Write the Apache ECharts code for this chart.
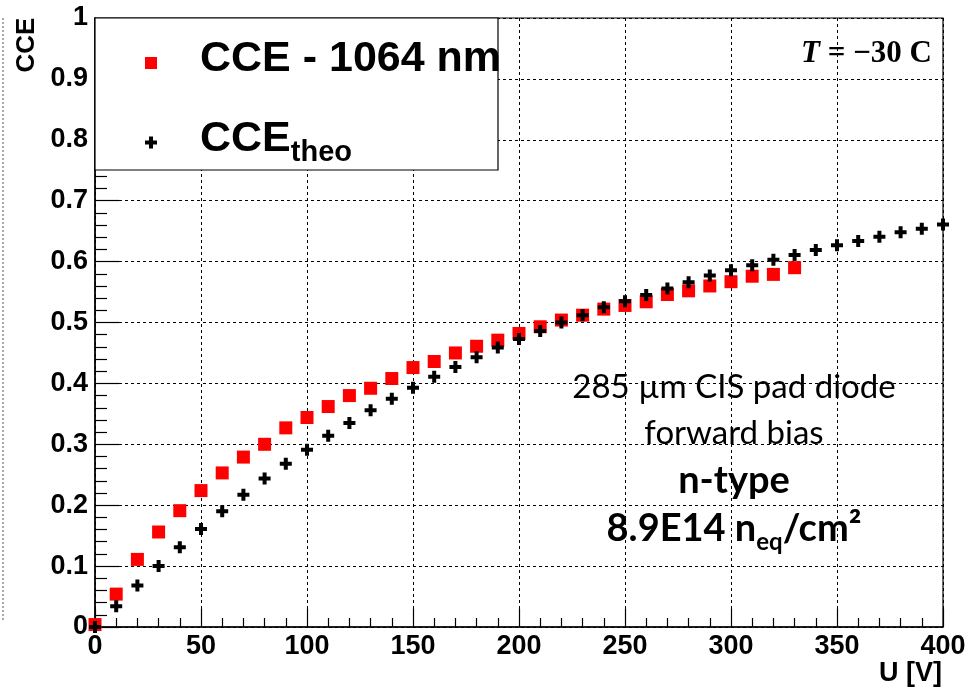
<!DOCTYPE html>
<html>
<head>
<meta charset="utf-8">
<script src="https://cdn.jsdelivr.net/npm/echarts@6/dist/echarts.min.js"></script>
<style>
html,body{margin:0;padding:0;background:#fff;}
#chart{width:965px;height:689px;}
</style>
</head>
<body>
<div id="chart"></div>
<script>
// ---- data ----
var voltageMeas = [0,10,20,30,40,50,60,70,80,90,100,110,120,130,140,150,160,170,180,190,200,210,220,230,240,250,260,270,280,290,300,310,320,330];
var cceMeasured = [0.004,0.054,0.111,0.156,0.191,0.224,0.253,0.279,0.300,0.327,0.344,0.362,0.380,0.392,0.408,0.426,0.436,0.450,0.461,0.471,0.482,0.493,0.504,0.512,0.522,0.528,0.534,0.546,0.552,0.560,0.567,0.576,0.579,0.590];
var voltageTheo = [0,10,20,30,40,50,60,70,80,90,100,110,120,130,140,150,160,170,180,190,200,210,220,230,240,250,260,270,280,290,300,310,320,330,340,350,360,370,380,390,400];
var cceTheo = [0.000,0.034,0.068,0.100,0.131,0.161,0.190,0.217,0.244,0.268,0.291,0.314,0.335,0.356,0.375,0.393,0.411,0.427,0.443,0.459,0.473,0.486,0.500,0.512,0.525,0.535,0.545,0.556,0.566,0.577,0.586,0.594,0.603,0.611,0.619,0.627,0.634,0.641,0.648,0.654,0.661];
var seriesNames = ['CCE - 1064 nm', 'CCE_theo'];
var annotationLines = ['285 µm CIS pad diode', 'forward bias', 'n-type', '8.9E14 n', 'eq', '/cm²'];

function zip(xs, ys) { return xs.map(function (x, i) { return [x, ys[i]]; }); }

var plusPath = 'path://M4,0h4v4h4v4h-4v4h-4v-4h-4v-4h4z';
var labelFont = 'Liberation Sans, Arial, sans-serif';
var textFont = 'Lato, "Open Sans", sans-serif';
var serifFont = 'Liberation Serif, DejaVu Serif, serif';

var chart = echarts.init(document.getElementById('chart'), null, {renderer: 'canvas'});
var dotted = {color: '#000', width: 1, type: [3, 3]};

chart.setOption({
  animation: false,
  backgroundColor: '#fff',
  grid: {left: 95, right: 22, top: 18, bottom: 62, show: true, borderColor: '#000', borderWidth: 1.2, outerBoundsMode: 'none', containLabel: false},
  xAxis: {
    type: 'value', min: 0, max: 400, interval: 50,
    axisLine: {show: true, lineStyle: {color: '#000', width: 1.5}},
    axisTick: {show: true, inside: true, length: 18, lineStyle: {color: '#000', width: 1.2}},
    minorTick: {show: true, splitNumber: 5, length: 9, lineStyle: {color: '#000', width: 1.2}},
    splitLine: {show: true, lineStyle: dotted},
    axisLabel: {color: '#000', fontFamily: labelFont, fontWeight: 'bold', fontSize: 27, margin: 6, showMaxLabel: true, showMinLabel: true}
  },
  yAxis: {
    type: 'value', min: 0, max: 1, interval: 0.1,
    axisLine: {show: true, lineStyle: {color: '#000', width: 1.5}},
    axisTick: {show: true, inside: true, length: 24, lineStyle: {color: '#000', width: 1.2}},
    minorTick: {show: true, splitNumber: 5, length: 12, lineStyle: {color: '#000', width: 1.2}},
    splitLine: {show: true, lineStyle: dotted},
    axisLabel: {color: '#000', fontFamily: labelFont, fontWeight: 'bold', fontSize: 27, margin: 7,
      formatter: function (v) { return v === 0 ? '0' : (v === 1 ? '1' : v.toFixed(1)); }}
  },
  legend: {
    orient: 'vertical', left: 140, top: 33, itemWidth: 12, itemHeight: 12, itemGap: 24, z: 20,
    data: [{name: seriesNames[0], icon: 'rect'}, {name: seriesNames[1], icon: plusPath}],
    textStyle: {color: '#000', fontFamily: labelFont, fontWeight: 'bold', fontSize: 43,
      rich: {
        s: {width: 38},
        a: {fontFamily: labelFont, fontWeight: 'bold', fontSize: 43, lineHeight: 50, verticalAlign: 'top', color: '#000'},
        b: {fontFamily: labelFont, fontWeight: 'bold', fontSize: 29, lineHeight: 29, padding: [30, 0, 0, 0], verticalAlign: 'bottom', color: '#000'}
      }},
    formatter: function (name) {
      if (name === 'CCE_theo') return '{s|}{a|CCE}{b|theo}';
      return '{s|}{a|' + name + '}';
    }
  },
  graphic: [
    {type: 'rect', z: 10, shape: {x: 95, y: 18, width: 403, height: 152}, style: {fill: '#fff', stroke: '#000', lineWidth: 1.2}},
    {type: 'text', z: 15, x: 932, y: 54, style: {
      text: '{i|T}{r| = −30 C}', align: 'right', verticalAlign: 'middle',
      rich: {
        i: {fontFamily: serifFont, fontStyle: 'italic', fontWeight: 'bold', fontSize: 31, fill: '#000'},
        r: {fontFamily: serifFont, fontWeight: 'bold', fontSize: 31, fill: '#000'}
      }}},
    {type: 'text', z: 15, x: 734, y: 387, style: {text: annotationLines[0], align: 'center', verticalAlign: 'middle', fontFamily: textFont, fontSize: 33, fill: '#000'}},
    {type: 'text', z: 15, x: 734, y: 433, style: {text: annotationLines[1], align: 'center', verticalAlign: 'middle', fontFamily: textFont, fontSize: 33, fill: '#000'}},
    {type: 'text', z: 15, x: 734, y: 481, style: {text: annotationLines[2], align: 'center', verticalAlign: 'middle', fontFamily: textFont, fontWeight: 'bold', fontSize: 38, fill: '#000'}},
    {type: 'text', z: 15, x: 734, y: 532, style: {
      text: '{m|' + annotationLines[3] + '}{s|' + annotationLines[4] + '}{m|' + annotationLines[5] + '}', align: 'center', verticalAlign: 'middle',
      rich: {
        m: {fontFamily: textFont, fontWeight: 'bold', fontSize: 38, lineHeight: 44, verticalAlign: 'top', fill: '#000'},
        s: {fontFamily: textFont, fontWeight: 'bold', fontSize: 24, lineHeight: 24, padding: [24, 0, 0, 0], verticalAlign: 'bottom', fill: '#000'}
      }}},
    {type: 'text', z: 15, x: 27, y: 45, rotation: Math.PI / 2, style: {text: 'CCE', align: 'center', verticalAlign: 'middle', fontFamily: labelFont, fontWeight: 'bold', fontSize: 26, fill: '#000'}},
    {type: 'text', z: 15, x: 942, y: 674, style: {text: 'U [V]', align: 'right', verticalAlign: 'middle', fontFamily: labelFont, fontWeight: 'bold', fontSize: 27, fill: '#000'}},
    {type: 'line', z: 1, shape: {x1: 3, y1: 18, x2: 3, y2: 622}, style: {stroke: '#555', lineWidth: 1, lineDash: [2, 2]}}
  ],
  series: [
    {name: seriesNames[0], type: 'scatter', data: zip(voltageMeas, cceMeasured), symbol: 'rect', symbolSize: 13,
      itemStyle: {color: '#ff0000', opacity: 1}, z: 3, clip: false},
    {name: seriesNames[1], type: 'scatter', data: zip(voltageTheo, cceTheo), symbol: plusPath, symbolSize: 12,
      itemStyle: {color: '#000', opacity: 1}, z: 4, clip: false}
  ]
});
</script>
</body>
</html>
